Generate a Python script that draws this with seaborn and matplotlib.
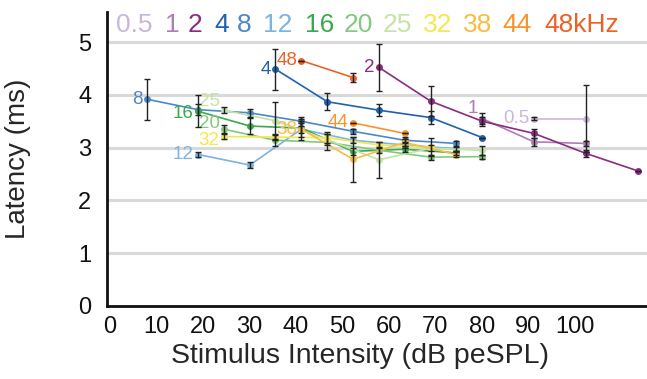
import matplotlib
matplotlib.use('Agg')
import matplotlib.pyplot as plt
import seaborn as sns
import pandas as pd

# ---------------- data ----------------
freqs = ['0.5', '1', '2', '4', '8', '12', '16', '20', '25', '32', '38', '44', '48']
header_labels = ['0.5', '1', '2', '4', '8', '12', '16', '20', '25', '32', '38', '44', '48kHz']
colors = ['#cbb6db', '#ad7db6', '#8c2a80', '#1f62b1', '#4c88c9', '#7bb3e2', '#3aa94b',
          '#83c87f', '#c6e2a7', '#f3e84c', '#f9bc42', '#f7952d', '#eb6228']

x_05 = [91.2, 102.4]
y_05 = [3.55, 3.55]
e_05 = [0.03, 0.63]

x_1 = [80.1, 91.2, 102.4]
y_1 = [3.55, 3.11, 3.08]
e_1 = [0.10, 0.08, 0.05]

x_2 = [57.9, 69.0, 80.1, 91.2, 102.4, 113.5]
y_2 = [4.52, 3.88, 3.50, 3.27, 2.89, 2.56]
e_2 = [0.45, 0.28, 0.08, 0.08, 0.06, 0.0]

x_4 = [35.6, 46.8, 57.9, 69.0, 80.1]
y_4 = [4.49, 3.87, 3.71, 3.57, 3.19]
e_4 = [0.39, 0.16, 0.11, 0.12, 0.0]

x_8 = [7.9, 19.0, 30.1, 41.2, 52.3, 63.4, 74.5]
y_8 = [3.92, 3.72, 3.66, 3.50, 3.31, 3.14, 3.08]
e_8 = [0.39, 0.10, 0.08, 0.08, 0.05, 0.06, 0.04]

x_12 = [19.0, 30.1, 41.2, 52.3, 63.4, 74.5]
y_12 = [2.87, 2.67, 3.35, 3.14, 3.05, 2.98]
e_12 = [0.05, 0.06, 0.20, 0.06, 0.05, 0.04]

x_16 = [19.0, 30.1, 41.2, 52.3, 63.4, 74.5]
y_16 = [3.69, 3.41, 3.37, 2.93, 2.97, 2.90]
e_16 = [0.30, 0.16, 0.10, 0.06, 0.06, 0.04]

x_20 = [24.5, 35.6, 46.8, 57.9, 69.0, 80.1]
y_20 = [3.35, 3.14, 3.10, 2.95, 2.82, 2.83]
e_20 = [0.08, 0.10, 0.15, 0.06, 0.05, 0.04]

x_25 = [24.5, 35.6, 46.8, 57.9, 69.0, 80.1]
y_25 = [3.71, 3.51, 3.15, 2.77, 2.99, 2.95]
e_25 = [0.06, 0.35, 0.10, 0.34, 0.06, 0.08]

x_32 = [24.5, 35.6, 46.8, 57.9, 69.0]
y_32 = [3.21, 3.20, 3.19, 3.05, 3.01]
e_32 = [0.04, 0.05, 0.10, 0.05, 0.17]

x_38 = [41.2, 52.3, 63.4, 74.5]
y_38 = [3.35, 2.78, 3.10, 2.87]
e_38 = [0.15, 0.43, 0.06, 0.05]

x_44 = [52.3, 63.4]
y_44 = [3.47, 3.27]
e_44 = [0.0, 0.0]

x_48 = [41.2, 52.3]
y_48 = [4.65, 4.33]
e_48 = [0.0, 0.09]

series_x = [x_05, x_1, x_2, x_4, x_8, x_12, x_16, x_20, x_25, x_32, x_38, x_44, x_48]
series_y = [y_05, y_1, y_2, y_4, y_8, y_12, y_16, y_20, y_25, y_32, y_38, y_44, y_48]
series_e = [e_05, e_1, e_2, e_4, e_8, e_12, e_16, e_20, e_25, e_32, e_38, e_44, e_48]

rows = []
for f, xs, ys, es in zip(freqs, series_x, series_y, series_e):
    for xv, yv, ev in zip(xs, ys, es):
        rows.append({'freq': f, 'x': xv, 'y': yv, 'err': ev})
df = pd.DataFrame(rows)

# ---------------- style ----------------
sns.set_style('white')
plt.rcParams['font.family'] = ['Liberation Sans', 'DejaVu Sans']

fig = plt.figure(figsize=(6.47, 3.79), dpi=100)
ax = fig.add_axes([0.165, 0.193, 0.835, 0.775])

palette = dict(zip(freqs, colors))

# grid lines
for yv in [1, 2, 3, 4, 5]:
    ax.axhline(yv, color='#d9d9d9', lw=2.2, zorder=0)

sns.lineplot(data=df, x='x', y='y', hue='freq', hue_order=freqs, palette=palette,
             marker='o', markersize=5, markeredgewidth=0, linewidth=1.2,
             legend=False, sort=True, ax=ax, zorder=3)

# error bars
ax.errorbar(df['x'], df['y'], yerr=df['err'], fmt='none', ecolor='#222222',
            elinewidth=1.0, capsize=2.5, capthick=1.0, zorder=4)

# series labels next to first point
label_dy = {'1': 7, '25': 6, '20': 4, '32': -3, '16': -1.5}
for f, xs, ys, c in zip(freqs, series_x, series_y, colors):
    ax.annotate(f, (xs[0], ys[0]), xytext=(-3, label_dy.get(f, 0)),
                textcoords='offset points', ha='right', va='center',
                color=c, fontsize=13.5)

# header labels at top
header_x = [5.3, 13.4, 18.3, 24.0, 29.0, 36.0, 45.2, 53.5, 61.8, 70.4, 79.0, 87.6, 101.4]
for lab, xv, c in zip(header_labels, header_x, colors):
    ax.text(xv, 5.32, lab, ha='center', va='center', color=c, fontsize=19)

ax.set_xlim(-0.65, 115.5)
ax.set_ylim(0, 5.57)
ax.set_xticks(range(0, 101, 10))
ax.set_yticks(range(0, 6))
ax.tick_params(axis='x', length=0, labelsize=17, pad=7, colors='#111111')
ax.tick_params(axis='y', length=0, labelsize=17, pad=11, colors='#111111')
ax.set_xlabel('Stimulus Intensity (dB peSPL)', fontsize=20.5, labelpad=4, x=0.469)
ax.set_ylabel('Latency (ms)', fontsize=20, labelpad=34)

for s in ['top', 'right']:
    ax.spines[s].set_visible(False)
for s in ['left', 'bottom']:
    ax.spines[s].set_color('#111111')
    ax.spines[s].set_linewidth(2.0)

fig.savefig('out.png', dpi=100)
